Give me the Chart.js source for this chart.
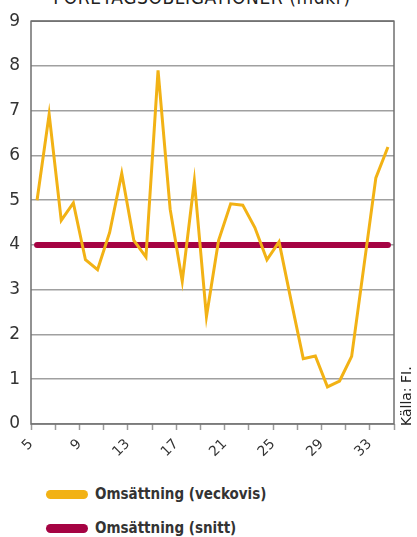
<!DOCTYPE html>
<html lang="sv">
<head>
<meta charset="utf-8">
<title>Omsättning</title>
<script src="https://cdn.jsdelivr.net/npm/chart.js@4.4.1/dist/chart.umd.min.js"></script>
<style>
  body { margin: 0; background: #fff; }
  #wrap { position: relative; width: 417px; height: 537px; overflow: hidden; }
  #chartBox { position: absolute; left: 0; top: 0; width: 417px; height: 465px; }
  #title {
    position: absolute; top: -14px; left: 0; width: 404px; text-align: center;
    font: 19px 'DejaVu Sans Condensed', sans-serif; color: #222; letter-spacing: 0.6px;
  }
  .legend { position: absolute; left: 46px; font: bold 15px 'DejaVu Sans Condensed', sans-serif; color: #333; }
  .legend div { display: flex; align-items: center; height: 20px; margin-bottom: 14px; }
  .legend span.sw { display: inline-block; width: 42px; height: 9px; border-radius: 5px; margin-right: 7px; }
</style>
</head>
<body>
<div id="wrap">
  <div id="title">FÖRETAGSOBLIGATIONER (mdkr)</div>
  <div id="chartBox"><canvas id="chart"></canvas></div>
  <div class="legend" style="top:484px">
    <div><span class="sw" style="background:#F2B215"></span>Omsättning (veckovis)</div>
    <div><span class="sw" style="background:#A50343"></span>Omsättning (snitt)</div>
  </div>
</div>
<script>
// Veckonummer
const veckor = [5, 6, 7, 8, 9, 10, 11, 12, 13, 14, 15, 16, 17, 18, 19, 20,
                21, 22, 23, 24, 25, 26, 27, 28, 29, 30, 31, 32, 33, 34];
// Omsättning per vecka (mdkr)
const veckovis = [5.0, 6.92, 4.55, 4.94, 3.67, 3.45, 4.28, 5.6, 4.1, 3.73, 7.9, 4.8, 3.19, 5.43, 2.4, 4.1,
                  4.92, 4.89, 4.39, 3.67, 4.07, 2.75, 1.46, 1.52, 0.83, 0.96, 1.51, 3.5, 5.5, 6.19];
// Snitt
const snitt = [4.0, 4.0, 4.0, 4.0, 4.0, 4.0, 4.0, 4.0, 4.0, 4.0, 4.0, 4.0, 4.0, 4.0, 4.0, 4.0,
               4.0, 4.0, 4.0, 4.0, 4.0, 4.0, 4.0, 4.0, 4.0, 4.0, 4.0, 4.0, 4.0, 4.0];
const yTicks = [0, 1, 2, 3, 4, 5, 6, 7, 8, 9];

const toPoints = arr => arr.map((v, i) => ({ x: veckor[i], y: v }));

// Plot frame + source text
const framePlugin = {
    id: 'frame',
    afterDraw(chart) {
        const { ctx, chartArea: a } = chart;
        ctx.save();
        ctx.strokeStyle = '#6f6f6f';
        ctx.lineWidth = 1.5;
        ctx.strokeRect(a.left, a.top, a.right - a.left, a.bottom - a.top);
        ctx.translate(407, 426);
        ctx.rotate(-Math.PI / 2);
        ctx.fillStyle = '#222';
        ctx.font = '14px "DejaVu Sans", sans-serif';
        ctx.textAlign = 'left';
        ctx.textBaseline = 'middle';
        ctx.fillText('Källa: FI.', 0, 0);
        ctx.restore();
    }
};

new Chart(document.getElementById('chart').getContext('2d'), {
    type: 'line',
    data: {
        datasets: [
            {
                label: 'Omsättning (snitt)',
                data: toPoints(snitt),
                borderColor: '#A50343',
                borderWidth: 6,
                borderCapStyle: 'round',
                pointRadius: 0,
                tension: 0,
                order: 2
            },
            {
                label: 'Omsättning (veckovis)',
                data: toPoints(veckovis),
                borderColor: '#F2B215',
                borderWidth: 3,
                pointRadius: 0,
                tension: 0,
                order: 1
            }
        ]
    },
    options: {
        responsive: true,
        maintainAspectRatio: false,
        animation: false,
        layout: { padding: { left: 0, right: 23, top: 20, bottom: 0 } },
        plugins: {
            legend: { display: false },
            tooltip: { enabled: false }
        },
        scales: {
            x: {
                type: 'linear',
                min: 4.5,
                max: 34.5,
                afterBuildTicks(scale) {
                    const t = [];
                    for (let v = 4.5; v <= 34.5; v += 2) t.push({ value: v });
                    scale.ticks = t;
                },
                afterFit(scale) { scale.height = 41; },
                grid: { drawOnChartArea: false, drawTicks: true, tickLength: 6, tickColor: '#9a9a9a', tickWidth: 1.5 },
                border: { display: false },
                ticks: {
                    autoSkip: false,
                    minRotation: 45,
                    maxRotation: 45,
                    padding: 6,
                    color: '#333',
                    font: { family: "'DejaVu Sans'", size: 14 },
                    callback: v => ((v - 4.5) % 4 === 0 ? String(v + 0.5) : '')
                }
            },
            y: {
                min: 0,
                max: 9,
                afterBuildTicks(scale) { scale.ticks = yTicks.map(v => ({ value: v })); },
                afterFit(scale) { scale.width = 31; },
                grid: { color: '#a0a0a0', lineWidth: 1.5, drawTicks: false },
                border: { display: false },
                ticks: {
                    padding: 11,
                    color: '#333',
                    font: { family: "'DejaVu Sans'", size: 17 }
                }
            }
        }
    },
    plugins: [framePlugin]
});
</script>
</body>
</html>
